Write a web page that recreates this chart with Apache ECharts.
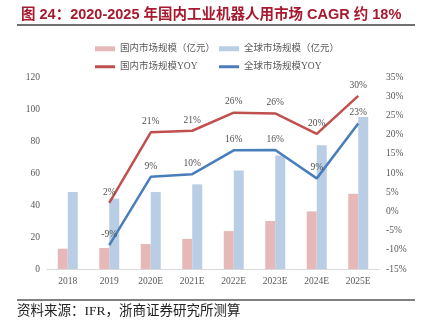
<!DOCTYPE html>
<html><head><meta charset="utf-8">
<script src="https://cdn.jsdelivr.net/npm/echarts@6/dist/echarts.min.js"></script>
<style>html,body{margin:0;padding:0;background:#fff}#c{width:424px;height:332px}</style>
</head><body><div id="c"></div>
<script>
const categories = ['2018','2019','2020E','2021E','2022E','2023E','2024E','2025E'];
const domesticSize = [12.7, 13.1, 15.6, 18.8, 23.7, 30.0, 36.0, 47.0];
const globalSize = [48.1, 44.0, 48.1, 52.9, 61.6, 71.0, 77.3, 95.0];
const domesticYoy = [null, 2.2, 20.6, 21.0, 25.7, 25.5, 20.2, 30.1];
const globalYoy = [null, -8.8, 9.0, 9.7, 15.9, 16.0, 8.6, 22.9];
const names = ['国内市场规模（亿元）','全球市场规模（亿元）','国内市场规模YOY','全球市场规模YOY'];
const titleText = '图 24：2020-2025 年国内工业机器人用市场 CAGR 约 18%';
const sourceText = '资料来源：IFR，浙商证券研究所测算';

const serif = "'Liberation Serif','Noto Sans CJK SC'";
const chart = echarts.init(document.getElementById('c'));
const legendText = {fontSize: 9.5, color: '#595959', fontFamily: serif};
function lg(name, left, top, w, h) {
  return {data: [name], left: left, top: top, itemWidth: w, itemHeight: h, icon: 'rect',
    textStyle: legendText, padding: 0, selectedMode: false};
}
const lblStyle = {show: true, position: 'top', distance: 6, fontSize: 9.5, color: '#505050',
  fontFamily: serif, formatter: p => Math.round(p.value) + '%'};
chart.setOption({
  animation: false,
  title: {text: titleText, left: 16, top: 3,
    textStyle: {fontSize: 14.5, fontWeight: 'bold', color: '#a6192e', fontFamily: "'Liberation Sans','Noto Sans CJK SC'"}},
  graphic: [
    {type: 'line', shape: {x1: 17, y1: 25, x2: 415, y2: 25}, style: {stroke: '#404040', lineWidth: 1.5}},
    {type: 'line', shape: {x1: 17, y1: 300, x2: 415, y2: 300}, style: {stroke: '#808080', lineWidth: 2}},
    {type: 'text', left: 17, top: 305, style: {text: sourceText, fontSize: 13.5, fill: '#222', fontFamily: serif}}
  ],
  legend: [
    lg(names[0], 95, 44, 20, 5),
    lg(names[1], 219, 44, 20, 5),
    lg(names[2], 95, 62, 20, 3),
    lg(names[3], 219, 62, 20, 3)
  ],
  grid: {left: 47, right: 45, top: 77, bottom: 63},
  xAxis: {type: 'category', data: categories, boundaryGap: true,
    axisLine: {lineStyle: {color: '#d9d9d9', width: 1}}, axisTick: {show: false},
    axisLabel: {fontSize: 9.5, color: '#595959', fontFamily: serif, margin: 8}},
  yAxis: [
    {type: 'value', min: 0, max: 120, interval: 20, splitLine: {show: false},
      axisLine: {show: false}, axisTick: {show: false},
      axisLabel: {fontSize: 9.5, color: '#595959', fontFamily: serif, margin: 7}},
    {type: 'value', min: -15, max: 35, interval: 5, splitLine: {show: false},
      axisLine: {show: false}, axisTick: {show: false},
      axisLabel: {fontSize: 9.5, color: '#595959', fontFamily: serif, margin: 7, formatter: '{value}%'}}
  ],
  series: [
    {name: names[0], type: 'bar', data: domesticSize, barWidth: 10, barGap: '0%', itemStyle: {color: '#e6b9b8'}},
    {name: names[1], type: 'bar', data: globalSize, barWidth: 10, barGap: '0%', itemStyle: {color: '#b9cde5'}},
    {name: names[2], type: 'line', yAxisIndex: 1, data: domesticYoy, symbol: 'circle', symbolSize: 0, showSymbol: true,
      lineStyle: {color: '#c0504d', width: 2.5}, itemStyle: {color: '#c0504d'}, label: lblStyle},
    {name: names[3], type: 'line', yAxisIndex: 1, data: globalYoy, symbol: 'circle', symbolSize: 0, showSymbol: true,
      lineStyle: {color: '#4a7ebb', width: 2.5}, itemStyle: {color: '#4a7ebb'}, label: lblStyle}
  ]
});
</script></body></html>
